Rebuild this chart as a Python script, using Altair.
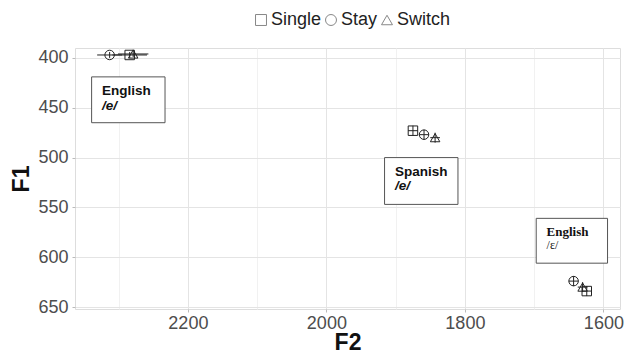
import altair as alt
import pandas as pd

# ---- data ----
vowels = ["English /e/"] * 3 + ["Spanish /e/"] * 3 + ["English /ɛ/"] * 3
conditions = ["Single", "Stay", "Switch"] * 3
f2_mean = [2284, 2313, 2279, 1875, 1859, 1843, 1624, 1643, 1630]
f1_mean = [397, 397, 396, 473, 477, 480, 634, 624, 630]
f2_err = [25, 18, 22, 7, 7, 7, 7, 7, 7]
f1_err = [3, 3, 3, 5, 5, 5, 5, 5, 5]

# annotation boxes (data coordinates)
box_f2_left = [2339, 1916, 1697]
box_f2_right = [2233, 1810, 1594]
box_f1_top = [419, 500, 561]
box_f1_bottom = [465, 547, 606]
box_title = ["English", "Spanish", "English"]
box_vowel = ["/e/", "/e/", "/ɛ/"]
text_f2 = [2324, 1901, 1682]
title_f1 = [433, 514, 575]
vowel_f1 = [448, 529, 588]
box_font = ["Liberation Sans", "Liberation Sans", "Liberation Serif"]

df = pd.DataFrame({
    "vowel": vowels, "cond": conditions, "F2": f2_mean, "F1": f1_mean,
    "F2lo": [m - e for m, e in zip(f2_mean, f2_err)],
    "F2hi": [m + e for m, e in zip(f2_mean, f2_err)],
    "F1lo": [m - e for m, e in zip(f1_mean, f1_err)],
    "F1hi": [m + e for m, e in zip(f1_mean, f1_err)],
})
boxes = pd.DataFrame({
    "x1": box_f2_left, "x2": box_f2_right, "y1": box_f1_top, "y2": box_f1_bottom,
    "t": box_title, "v": box_vowel, "tx": text_f2, "ty": title_f1, "vy": vowel_f1,
    "font": box_font,
})

xdom = [2363, 1576]
ydom = [390, 652]
xticks = [2300, 2200, 2100, 2000, 1900, 1800, 1700, 1600]
yticks = [400, 425, 450, 475, 500, 525, 550, 575, 600, 625, 650]

xscale = alt.Scale(domain=xdom, nice=False, zero=False)
yscale = alt.Scale(domain=ydom, reverse=True, nice=False, zero=False)

xaxis = alt.Axis(
    title="F2", values=xticks, format="d",
    labelExpr="datum.value % 200 == 0 ? datum.label : ''",
    tickOpacity={"condition": {"test": "datum.value % 200 == 0", "value": 1}, "value": 0},
    gridColor={"condition": {"test": "datum.value % 200 == 0", "value": "#e4e4e4"}, "value": "#f1f1f1"},
    labelFontSize=18, labelColor="#4d4d4d", labelFont="Liberation Sans",
    titleFontSize=23, titleFont="Liberation Sans", titleFontWeight="bold", titleColor="#111",
    titlePadding=-1, tickColor="#bbbbbb", tickSize=3, domain=False, labelPadding=2,
)
yaxis = alt.Axis(
    title="F1", values=yticks, format="d",
    labelExpr="datum.value % 50 == 0 ? datum.label : ''",
    tickOpacity={"condition": {"test": "datum.value % 50 == 0", "value": 1}, "value": 0},
    gridColor={"condition": {"test": "datum.value % 50 == 0", "value": "#e4e4e4"}, "value": "#f1f1f1"},
    labelFontSize=18, labelColor="#4d4d4d", labelFont="Liberation Sans",
    titleFontSize=23, titleFont="Liberation Sans", titleFontWeight="bold", titleColor="#111",
    titlePadding=4, tickColor="#bbbbbb", tickSize=3, domain=False, labelPadding=4,
)

base = alt.Chart(df)

hbar = base.mark_rule(color="#222", strokeWidth=1).encode(
    x=alt.X("F2lo:Q", scale=xscale, axis=xaxis), x2="F2hi:Q",
    y=alt.Y("F1:Q", scale=yscale, axis=yaxis),
)
vbar = base.mark_rule(color="#222", strokeWidth=1).encode(
    x=alt.X("F2:Q", scale=xscale), y=alt.Y("F1lo:Q", scale=yscale), y2="F1hi:Q",
)
pts = base.mark_point(filled=False, color="#222", strokeWidth=1, size=90, opacity=1).encode(
    x=alt.X("F2:Q", scale=xscale),
    y=alt.Y("F1:Q", scale=yscale),
    shape=alt.Shape(
        "cond:N",
        scale=alt.Scale(domain=["Single", "Stay", "Switch"],
                        range=["square", "circle", "triangle-up"]),
        legend=alt.Legend(
            title=None, orient="none", direction="horizontal",
            legendX=177, legendY=-37, labelFontSize=18, labelFont="Liberation Sans",
            labelColor="#222", symbolStrokeColor="#888", symbolSize=120,
            symbolStrokeWidth=1, columnPadding=0, labelOffset=1, symbolFillColor="white",
        ),
    ),
)

bbase = alt.Chart(boxes)
rects = bbase.mark_rect(fill="white", stroke="#555", strokeWidth=1).encode(
    x=alt.X("x1:Q", scale=xscale), x2="x2:Q",
    y=alt.Y("y1:Q", scale=yscale), y2="y2:Q",
)
sans = boxes[boxes["font"] == "Liberation Sans"]
serif = boxes[boxes["font"] == "Liberation Serif"]
t1 = alt.Chart(sans).mark_text(align="left", baseline="middle", fontWeight="bold",
                               fontSize=13.5, font="Liberation Sans", color="#111").encode(
    x=alt.X("tx:Q", scale=xscale), y=alt.Y("ty:Q", scale=yscale), text="t:N")
v1 = alt.Chart(sans).mark_text(align="left", baseline="middle", fontWeight="bold",
                               fontStyle="italic", fontSize=13.5, font="Liberation Sans",
                               color="#111").encode(
    x=alt.X("tx:Q", scale=xscale), y=alt.Y("vy:Q", scale=yscale), text="v:N")
t2 = alt.Chart(serif).mark_text(align="left", baseline="middle", fontWeight="bold",
                                fontSize=13, font="Liberation Serif", color="#111").encode(
    x=alt.X("tx:Q", scale=xscale), y=alt.Y("ty:Q", scale=yscale), text="t:N")
v2 = alt.Chart(serif).mark_text(align="left", baseline="middle", fontSize=12,
                                font="Liberation Serif", color="#111").encode(
    x=alt.X("tx:Q", scale=xscale), y=alt.Y("vy:Q", scale=yscale), text="v:N")

chart = alt.layer(hbar, vbar, pts, rects, t1, v1, t2, v2).properties(
    width=545, height=261,
    autosize=alt.AutoSizeParams(type="none"),
    padding={"left": 67, "top": 40, "right": 7, "bottom": 50},
).configure_view(stroke="#dddddd", strokeWidth=1).configure(background="white")

chart.save("out.html", embed_options={"renderer": "svg", "actions": False})
